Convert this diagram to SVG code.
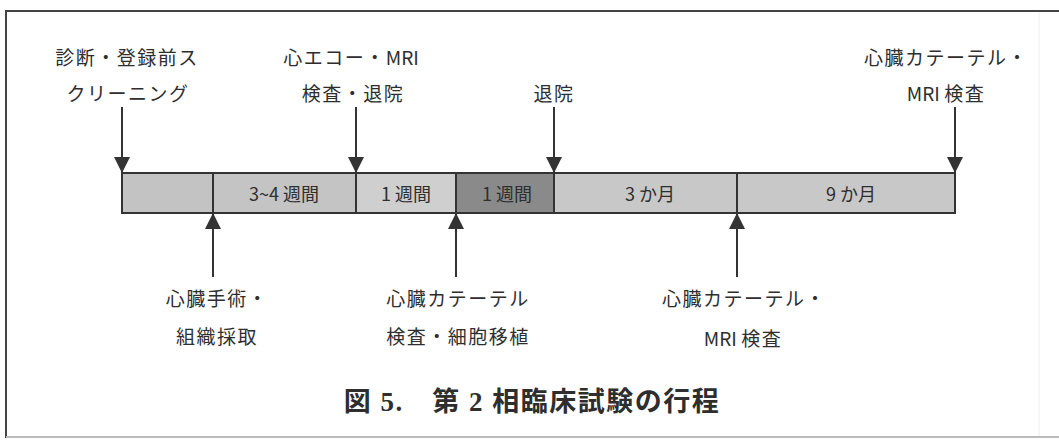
<svg xmlns="http://www.w3.org/2000/svg" width="1059" height="440" viewBox="0 0 1059 440">
  <defs>
    <style>
      .lbl { font-family: "Noto Sans CJK JP", "Noto Sans", sans-serif; font-size: 19px; fill: #2e2e2e; letter-spacing: 1.5px; text-anchor: middle; dominant-baseline: central; }
      .lat { letter-spacing: 0px; }
      .seg-t { font-family: "Noto Sans CJK JP", "Noto Sans", sans-serif; font-size: 18px; fill: #2e2e2e; text-anchor: middle; dominant-baseline: central; }
      .seg { stroke: #333; stroke-width: 2; }
      .conn { stroke: #333; stroke-width: 2; fill: none; }
      .title { font-family: "Liberation Serif", "Noto Sans CJK JP", serif; font-size: 27px; font-weight: bold; fill: #2e2e2e; letter-spacing: 1.5px; text-anchor: middle; dominant-baseline: central; }
    </style>
    <marker id="arrow" markerWidth="8" markerHeight="8" refX="8" refY="4" orient="auto" markerUnits="strokeWidth" viewBox="0 0 8 8">
      <path d="M0,0 L8,4 L0,8 Z" fill="#333"/>
    </marker>
  </defs>
  <rect width="1059" height="440" fill="#ffffff"/>
  <!-- frame -->
  <g id="frame">
    <line x1="6" y1="11" x2="1059" y2="11" stroke="#444" stroke-width="2"/>
    <line x1="6" y1="10" x2="6" y2="438" stroke="#444" stroke-width="2"/>
    <line x1="6" y1="437" x2="1059" y2="437" stroke="#bbb" stroke-width="2"/>
    <line x1="1039" y1="12" x2="1039" y2="436" stroke="#eee" stroke-width="1"/>
  </g>
  <!-- timeline bar segments -->
  <g id="seg0"><rect class="seg" x="122" y="173" width="91" height="40" fill="#c3c3c3"/></g>
  <g id="seg1"><rect class="seg" x="213" y="173" width="143" height="40" fill="#c4c4c4"/><text class="seg-t" x="284" y="193">3~4 週間</text></g>
  <g id="seg2"><rect class="seg" x="356" y="173" width="100" height="40" fill="#cfcfcf"/><text class="seg-t" x="406" y="193">1 週間</text></g>
  <g id="seg3"><rect class="seg" x="456" y="173" width="98" height="40" fill="#8a8a8a"/><text class="seg-t" x="507" y="193">1 週間</text></g>
  <g id="seg4"><rect class="seg" x="554" y="173" width="183" height="40" fill="#c8c8c8"/><text class="seg-t" x="650" y="193">3 か月</text></g>
  <g id="seg5"><rect class="seg" x="737" y="173" width="218" height="40" fill="#c8c8c8"/><text class="seg-t" x="851" y="193">9 か月</text></g>
  <!-- labels -->
  <g id="lbl-screening">
    <text class="lbl" x="127" y="56">診断・登録前ス</text>
    <text class="lbl" x="128" y="92">クリーニング</text>
  </g>
  <g id="lbl-echo">
    <text class="lbl" x="351" y="56">心エコー・<tspan class="lat">MRI</tspan></text>
    <text class="lbl" x="353" y="92">検査・退院</text>
  </g>
  <g id="lbl-discharge">
    <text class="lbl" x="554" y="92">退院</text>
  </g>
  <g id="lbl-final">
    <text class="lbl" x="946" y="56">心臓カテーテル・</text>
    <text class="lbl" x="946" y="92"><tspan class="lat">MRI </tspan>検査</text>
  </g>
  <g id="lbl-surgery">
    <text class="lbl" x="217" y="297">心臓手術・</text>
    <text class="lbl" x="217" y="335">組織採取</text>
  </g>
  <g id="lbl-transplant">
    <text class="lbl" x="458" y="297">心臓カテーテル</text>
    <text class="lbl" x="458" y="335">検査・細胞移植</text>
  </g>
  <g id="lbl-3m">
    <text class="lbl" x="744" y="297">心臓カテーテル・</text>
    <text class="lbl" x="743" y="337"><tspan class="lat">MRI </tspan>検査</text>
  </g>
  <!-- connectors -->
  <g id="connectors">
    <line class="conn" x1="122" y1="107" x2="122" y2="173" marker-end="url(#arrow)"/>
    <line class="conn" x1="356" y1="107" x2="356" y2="173" marker-end="url(#arrow)"/>
    <line class="conn" x1="554" y1="107" x2="554" y2="173" marker-end="url(#arrow)"/>
    <line class="conn" x1="955" y1="107" x2="955" y2="173" marker-end="url(#arrow)"/>
    <line class="conn" x1="213" y1="277" x2="213" y2="213" marker-end="url(#arrow)"/>
    <line class="conn" x1="456" y1="277" x2="456" y2="213" marker-end="url(#arrow)"/>
    <line class="conn" x1="737" y1="277" x2="737" y2="213" marker-end="url(#arrow)"/>
  </g>
  <!-- caption -->
  <g id="caption">
    <text class="title" x="532" y="402" xml:space="preserve">図 5.　第 2 相臨床試験の行程</text>
  </g>
</svg>
